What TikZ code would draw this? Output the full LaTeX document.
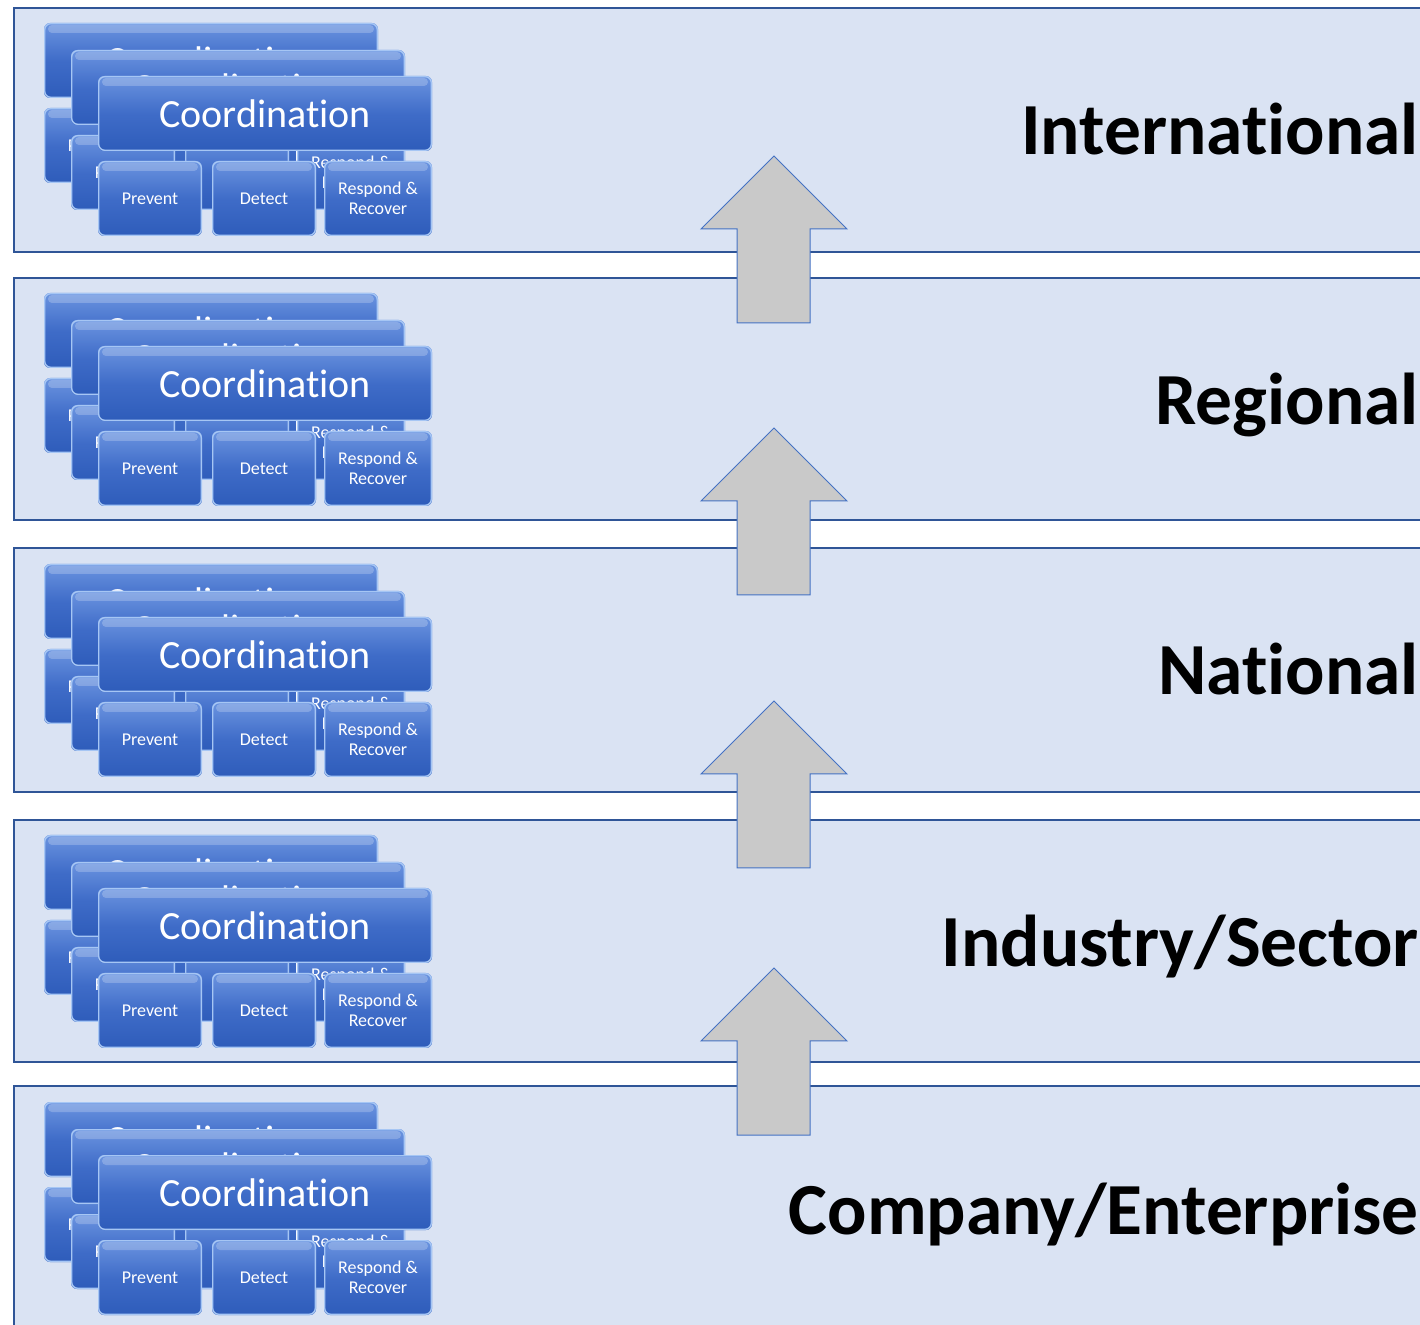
\documentclass[tikz,border=0pt]{standalone}
\usepackage{fontspec}
\setmainfont{Carlito}[RawFeature={-liga;-clig;-dlig;-calt}]
\definecolor{bandfill}{HTML}{DAE3F3}
\definecolor{bandline}{HTML}{2F5597}
\definecolor{boxtop}{HTML}{6B94E0}
\definecolor{boxmid}{HTML}{3F6CC8}
\definecolor{boxbot}{HTML}{2E5CBA}
\definecolor{boxedge}{HTML}{A6C6F4}
\definecolor{arrowfill}{HTML}{C9C9C9}
\definecolor{arrowline}{HTML}{4472C4}
\tikzset{
  band/.style={draw=bandline, fill=bandfill, line width=1.2pt},
  uparrow/.style={draw=arrowline, fill=arrowfill, line width=0.5pt, line join=miter},
  boxtext/.style={text=white, inner sep=0pt, align=center},
  bigbox/.style={font=\fontsize{20pt}{24pt}\selectfont},
  smallbox/.style={font=\fontsize{9pt}{10pt}\selectfont},
  levellabel/.style={inner sep=0pt, anchor=base east, font=\fontsize{36.7pt}{44pt}\selectfont\bfseries},
}
\newcommand\gbox[7]{%
  \shade[rounded corners=3pt, top color=boxtop, bottom color=boxbot, middle color=boxmid]
     (#2,#3) rectangle ++(#4,#5);
  \fill[white, opacity=0.22, rounded corners=2pt] (#2+4,#3+2) rectangle ++(#4-8,8);
  \draw[boxedge, line width=0.7pt, rounded corners=3pt] (#2+0.7,#3+0.7) rectangle ++(#4-1.4,#5-1.4);
  \node[boxtext, #7] (#1) at (#2+#4/2,#3+#5/2) {#6};
}
\newcommand\copyset[3]{%
  \gbox{#1c}{#2}{#3}{334}{75}{Coordination}{bigbox}
  \gbox{#1p}{#2}{#3+85}{104}{75}{Prevent}{smallbox}
  \gbox{#1d}{#2+114}{#3+85}{104}{75}{Detect}{smallbox}
  \gbox{#1r}{#2+226}{#3+85}{108}{75}{Respond \&\\Recover}{smallbox}
}
\newcommand\stack[2]{%
  \copyset{#1a}{44}{#2}
  \copyset{#1b}{71}{#2+27}
  \copyset{#1c}{98}{#2+53}
}
\begin{document}
\begin{tikzpicture}[x=0.5pt,y=-0.5pt]
\useasboundingbox (0,0) rectangle (1420,1325);
\fill[white] (0,0) rectangle (1420,1325);
% bands
\draw[band] (14,8) rectangle (1440,252);
\draw[band] (14,278) rectangle (1440,520);
\draw[band] (14,548) rectangle (1440,792);
\draw[band] (14,820) rectangle (1440,1062);
\draw[band] (14,1086) rectangle (1440,1345);
% stacks
\stack{s1}{23}
\stack{s2}{293}
\stack{s3}{564}
\stack{s4}{835}
\stack{s5}{1102}
% labels
\node[levellabel] (l1) at (1419,155) {International};
\node[levellabel] (l2) at (1419,425) {Regional};
\node[levellabel] (l3) at (1419,695) {National};
\node[levellabel] (l4) at (1419,967) {Industry/Sector};
\node[levellabel] (l5) at (1419,1234) {Company/Enterprise};
% arrows
\foreach \t in {156,428,701,968}{
  \draw[uparrow] (774,\t) -- (847,\t+73) -- (810,\t+73) -- (810,\t+167)
     -- (737,\t+167) -- (737,\t+73) -- (701,\t+73) -- cycle;
}
\end{tikzpicture}
\end{document}
